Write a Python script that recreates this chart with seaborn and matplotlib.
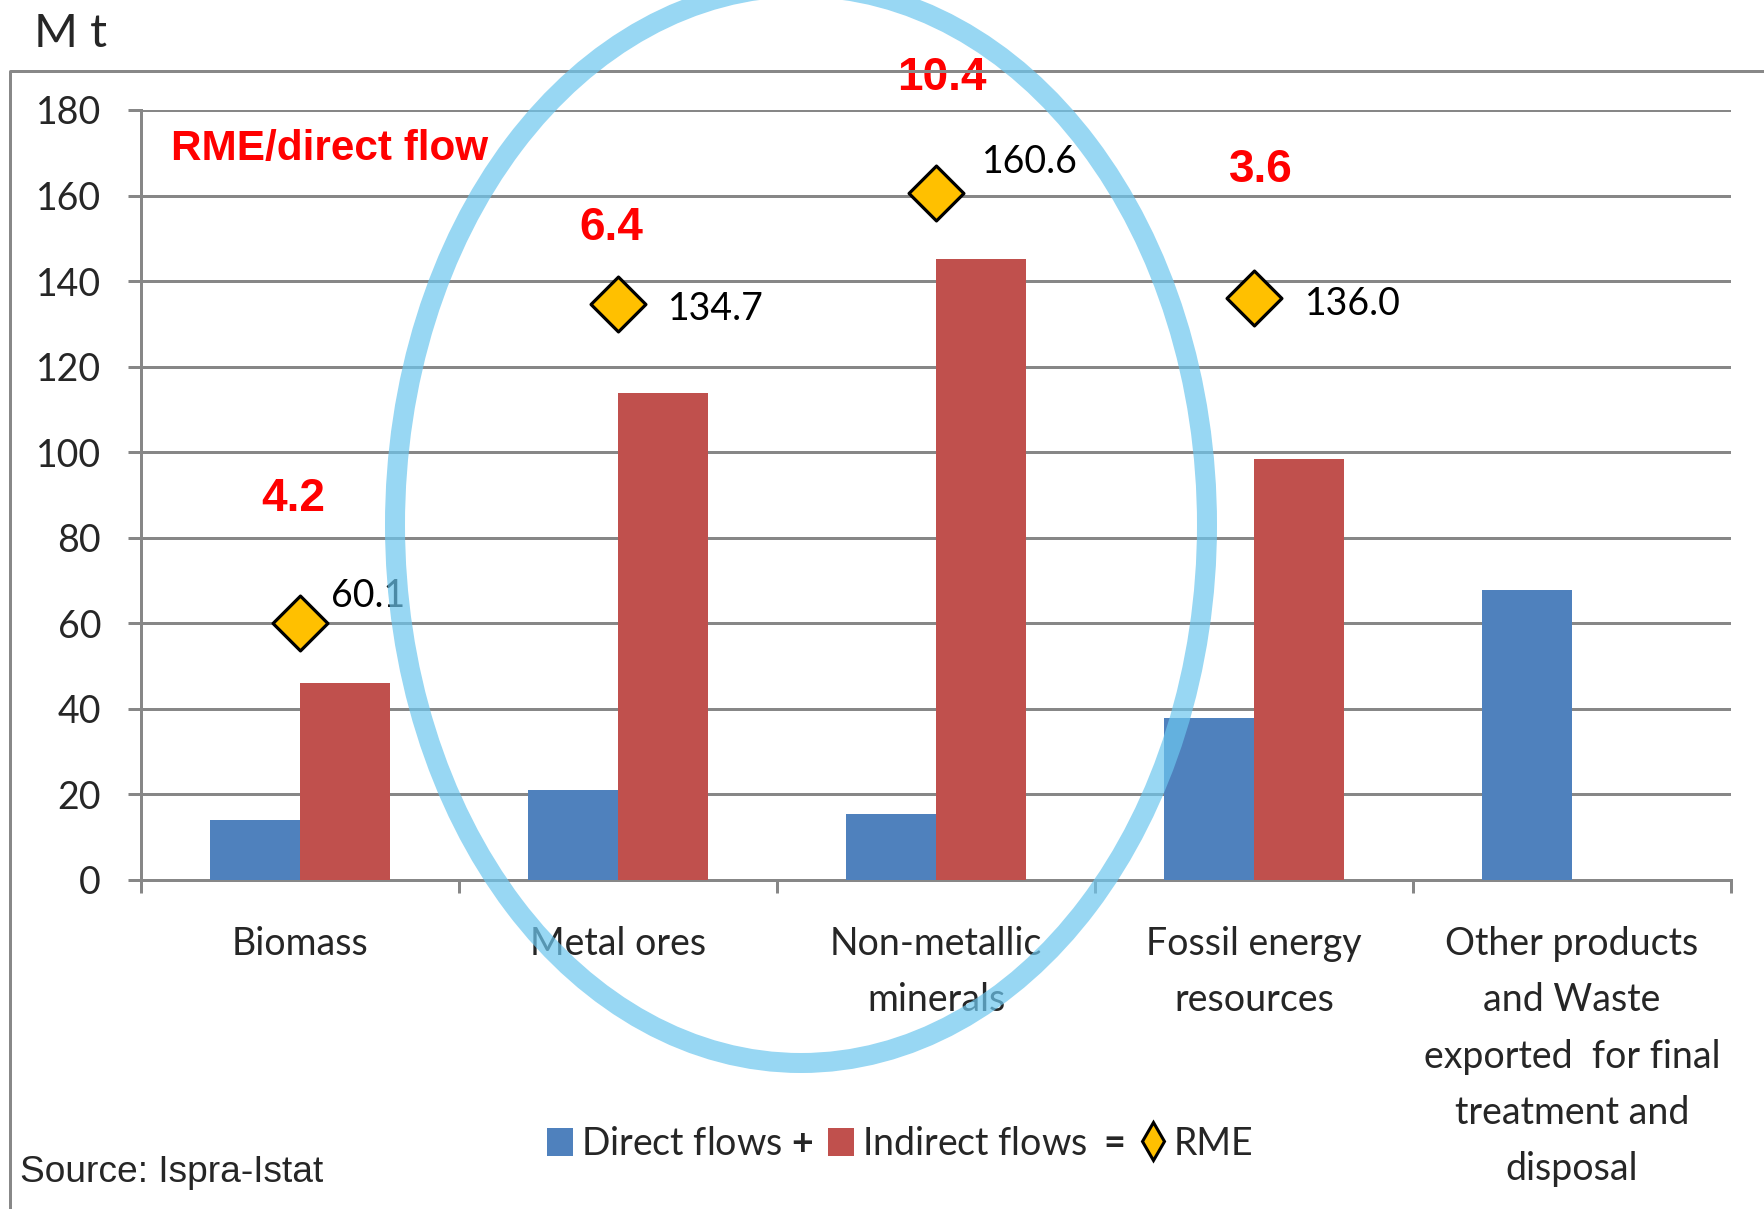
import numpy as np
import pandas as pd
import matplotlib
matplotlib.use("Agg")
import matplotlib.pyplot as plt
import seaborn as sns
from matplotlib.patches import Ellipse, Patch
from matplotlib.lines import Line2D


# ──────────────────────────────────────────────
# Data (Mt)
# ──────────────────────────────────────────────

categories = [
    "Biomass",
    "Metal ores",
    "Non-metallic\nminerals",
    "Fossil energy\nresources",
    "Other products\nand Waste\nexported  for final\ntreatment and\ndisposal",
]
direct_flows = [14.1, 21.0, 15.4, 37.8, 67.8]
indirect_flows = [46.0, 113.9, 145.2, 98.5, np.nan]
rme_values = [60.1, 134.7, 160.6, 136.0, np.nan]
rme_direct_ratio = [4.2, 6.4, 10.4, 3.6, np.nan]
y_ticks = [0, 20, 40, 60, 80, 100, 120, 140, 160, 180]

# label placement (styling, not data)
rme_label_offset_px = [(31, 27), (50, -5), (46, 31), (51, -6)]
ratio_label_dx = [-0.02, -0.02, 0.02, 0.02]
ratio_label_y = [89, 152.5, 187.5, 166]

BLUE = "#4F81BD"
RED = "#C0504D"
GOLD = "#FFC000"
GRID = "#878787"

W, H, DPI = 1765, 1209, 100
PX = 72 / DPI  # points per pixel

sns.set_style("white")
plt.rcParams["font.family"] = ["Lato", "DejaVu Sans"]
plt.rcParams["mathtext.fontset"] = "custom"
plt.rcParams["mathtext.rm"] = "Lato"
plt.rcParams["mathtext.bf"] = "Lato:bold"

df = pd.DataFrame({
    "category": categories * 2,
    "flow": ["Direct flows"] * len(categories) + ["Indirect flows"] * len(categories),
    "value": direct_flows + indirect_flows,
}).dropna()

fig = plt.figure(figsize=(W / DPI, H / DPI), dpi=DPI)
ax = fig.add_axes([141 / W, 1 - 880 / H, (1731 - 141) / W, (880 - 110) / H])

sns.barplot(
    data=df, x="category", y="value", hue="flow",
    order=categories, hue_order=["Direct flows", "Indirect flows"],
    palette=[BLUE, RED], width=0.566, saturation=1, dodge=True,
    linewidth=0, legend=False, errorbar=None, ax=ax, zorder=3,
)

pos = np.arange(len(categories))
sns.scatterplot(
    x=pos, y=rme_values, marker="D", s=780, color=GOLD,
    edgecolor="black", linewidth=2.3, zorder=5, legend=False, ax=ax,
)

# RME value labels
for i, (v, (dx, dy)) in enumerate(zip(rme_values[:4], rme_label_offset_px)):
    ax.annotate(f"{v:.1f}", xy=(i, v), xytext=(dx * PX, dy * PX),
                textcoords="offset points", ha="left", va="center",
                fontsize=27, color="black", zorder=6)

# RME/direct flow ratios
for i, (r, dx, ly) in enumerate(zip(rme_direct_ratio[:4], ratio_label_dx, ratio_label_y)):
    ax.text(i + dx, ly, f"{r:.1f}", ha="center", va="center", fontsize=33,
            fontweight="bold", color="red", family="Liberation Sans",
            clip_on=False, zorder=6)
ax.text(-0.406, 170.9, "RME/direct flow", ha="left", va="center", fontsize=30.4,
        fontweight="bold", color="red", family="Liberation Sans", zorder=6)

# axes styling
ax.set_xlim(-0.5, len(categories) - 0.5)
ax.set_ylim(0, 180)
ax.set_yticks(y_ticks)
ax.set_yticklabels([str(t) for t in y_ticks], fontsize=27)
ax.set_xticks(pos)
ax.set_xticklabels(categories, fontsize=27, linespacing=1.7)
ax.set_xticks(np.arange(-0.5, len(categories)), minor=True)
ax.set_xlabel("")
ax.set_ylabel("")
ax.set_axisbelow(True)
ax.grid(axis="y", color=GRID, linewidth=3 * PX)
ax.grid(axis="x", visible=False)
for side in ["top", "right"]:
    ax.spines[side].set_visible(False)
for side in ["left", "bottom"]:
    ax.spines[side].set_color(GRID)
    ax.spines[side].set_linewidth(3 * PX)
ax.tick_params(axis="y", length=13 * PX, width=3 * PX, color=GRID, pad=27 * PX,
               direction="out", left=True)
ax.tick_params(axis="x", which="major", length=0, pad=46 * PX, bottom=True)
ax.tick_params(axis="x", which="minor", length=13 * PX, width=3 * PX, color=GRID,
               direction="out", bottom=True)
for lbl in ax.get_xticklabels():
    lbl.set_va("top")

# unit label and source
fig.text(34 / W, 1 - 34 / H, "M t", fontsize=34, ha="left", va="center")
fig.text(20 / W, 1 - 1173 / H, "Source: Ispra-Istat", fontsize=26.7,
         family="Liberation Sans", ha="left", va="center")

# outer frame (left and top edges only)
fig.add_artist(Line2D([10 / W, 10 / W, 1], [0, 1 - 71 / H, 1 - 71 / H],
                      transform=fig.transFigure, color="#888888", linewidth=3 * PX))

# highlight ellipse
fig.add_artist(Ellipse((801 / W, 1 - 525 / H), width=812 / W, height=1076 / H,
                       transform=fig.transFigure, fill=False, edgecolor="#6CC6EE",
                       alpha=0.7, linewidth=20 * PX, zorder=10))

# legend: Direct flows + Indirect flows = RME
handles = [
    Patch(facecolor=BLUE, edgecolor="none"),
    Patch(facecolor=RED, edgecolor="none"),
    Line2D([], [], marker="d", markersize=19, linestyle="none",
           markerfacecolor=GOLD, markeredgecolor="black", markeredgewidth=2.2),
]
labels = [r"Direct flows $\mathbf{+}$", r"Indirect flows $\mathbf{=}$", "RME"]
fig.legend(handles, labels, loc="center", bbox_to_anchor=(900 / W, 1 - 1144 / H),
           ncol=3, frameon=False, fontsize=27, handlelength=0.7, handleheight=0.8,
           handletextpad=0.2, columnspacing=0.4, borderpad=0)

fig.savefig("out.png", dpi=DPI)
